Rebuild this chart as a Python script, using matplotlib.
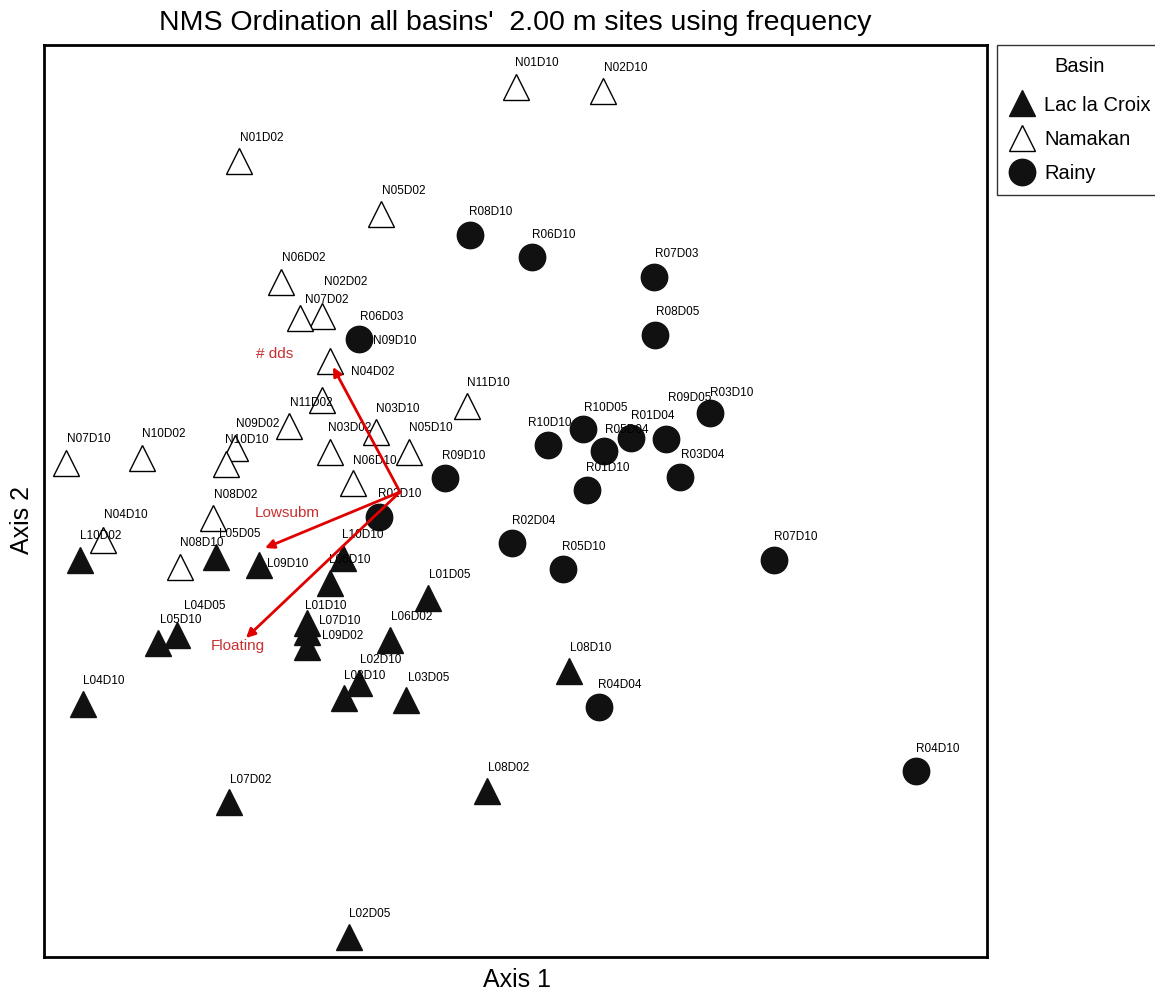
import matplotlib
matplotlib.use("Agg")
import matplotlib.pyplot as plt
from matplotlib.lines import Line2D

plt.rcParams['font.family'] = ['Liberation Sans', 'DejaVu Sans']

# ---- data: site scores (Axis 1, Axis 2) ----
lac_names = ["L10D02", "L05D05", "L09D10", "L10D10", "L06D10", "L01D05", "L04D05",
             "L05D10", "L01D10", "L07D10", "L09D02", "L06D02", "L02D10", "L03D10",
             "L03D05", "L08D10", "L04D10", "L07D02", "L08D02", "L02D05"]
lac_x = [80, 216, 259, 343, 330, 428, 177, 158, 307, 307, 307, 390, 359, 344, 406, 569, 83, 229, 487, 349]
lac_y = [560, 557, 565, 558, 583, 598, 635, 643, 623, 632, 647, 640, 683, 698, 700, 671, 704, 802, 791, 937]

nam_names = ["N01D10", "N02D10", "N01D02", "N05D02", "N06D02", "N02D02", "N07D02", "N04D02",
             "N11D10", "N11D02", "N03D10", "N09D02", "N03D02", "N05D10", "N10D10", "N09D10",
             "N07D10", "N10D02", "N06D10", "N08D02", "N04D10", "N08D10"]
nam_x = [516, 603, 239, 381, 281, 322, 300, 330, 467, 322, 376, 289, 330, 409, 235, 226, 66, 142, 353, 213, 103, 180]
nam_y = [87, 91, 161, 214, 282, 316, 318, 361, 406, 400, 432, 426, 452, 452, 448, 464, 463, 458, 483, 518, 540, 567]

rai_names = ["R08D10", "R06D10", "R07D03", "R08D05", "R06D03", "R03D10", "R09D05", "R01D04",
             "R05D04", "R10D05", "R10D10", "R03D04", "R01D10", "R09D10", "R02D10", "R02D04",
             "R05D10", "R07D10", "R04D04", "R04D10"]
rai_x = [470, 532, 654, 655, 359, 710, 666, 631, 604, 583, 548, 680, 587, 445, 379, 512, 563, 774, 599, 916]
rai_y = [235, 257, 277, 335, 339, 413, 439, 438, 451, 429, 445, 477, 490, 478, 517, 543, 569, 560, 707, 771]

# label positions (same units as scores)
lac_lx = [101, 240, 288, 363, 350, 450, 205, 181, 326, 340, 343, 412, 381, 365, 429, 591, 104, 251, 509, 370]
lac_ly = [536, 534, 564, 535, 560, 575, 606, 620, 606, 621, 636, 617, 660, 676, 678, 648, 681, 780, 768, 914]
nam_lx = [537, 626, 262, 404, 304, 346, 327, 373, 488, 311, 398, 258, 350, 431, 247, 395, 89, 164, 375, 236, 126, 202]
nam_ly = [63, 68, 138, 191, 258, 282, 300, 372, 383, 403, 409, 424, 428, 428, 440, 341, 439, 434, 461, 495, 515, 543]
rai_lx = [491, 554, 677, 678, 382, 732, 690, 653, 627, 606, 550, 703, 608, 464, 400, 534, 584, 796, 620, 938]
rai_ly = [212, 235, 254, 312, 317, 393, 398, 416, 430, 408, 423, 455, 468, 456, 494, 521, 547, 537, 685, 749]

# joint plot vectors
vec_names = ["# dds", "Lowsubm", "Floating"]
vec_origin = (400, 492)
vec_x = [333, 265, 246]
vec_y = [367, 548, 638]
vec_lx = [275, 287, 238]
vec_ly = [354, 513, 646]

basins = ["Lac la Croix", "Namakan", "Rainy"]

# ---- figure ----
W, H = 1155, 997
fig = plt.figure(figsize=(W / 100, H / 100), dpi=100)
ax = fig.add_axes([44 / W, 40 / H, 943 / W, 912 / H])
ax.set_xlim(44, 987)
ax.set_ylim(957, 45)
ax.set_xticks([])
ax.set_yticks([])
for s in ax.spines.values():
    s.set_linewidth(2.0)

MS = 19
ax.plot(nam_x, nam_y, linestyle='none', marker='^', ms=MS, mfc='white', mec='black', mew=1.0, zorder=2)
ax.plot(lac_x, lac_y, linestyle='none', marker='^', ms=MS, mfc='#111111', mec='#111111', mew=1.0, zorder=2)
ax.plot(rai_x, rai_y, linestyle='none', marker='o', ms=MS, mfc='#111111', mec='#111111', mew=1.0, zorder=2)

for names, xs, ys, lxs, lys in [(nam_names, nam_x, nam_y, nam_lx, nam_ly),
                                (lac_names, lac_x, lac_y, lac_lx, lac_ly),
                                (rai_names, rai_x, rai_y, rai_lx, rai_ly)]:
    for n, x, y, lx, ly in zip(names, xs, ys, lxs, lys):
        ax.text(lx, ly, n, fontsize=8.5, ha='center', va='center', color='black', zorder=4)

for n, x, y, lx, ly in zip(vec_names, vec_x, vec_y, vec_lx, vec_ly):
    ax.annotate("", xy=(x, y), xytext=vec_origin,
                arrowprops=dict(arrowstyle='-|>', color='#e00000', lw=2.0,
                                mutation_scale=13, shrinkA=0, shrinkB=0), zorder=5)
    ax.text(lx, ly, n, fontsize=11, ha='center', va='center', color='#c83030', zorder=5)

fig.text(515 / W, 1 - 23 / H, "NMS Ordination all basins'  2.00 m sites using frequency",
         fontsize=20.5, ha='center', va='center')
fig.text(517 / W, 1 - 980 / H, "Axis 1", fontsize=18, ha='center', va='center')
fig.text(22 / W, 1 - 520 / H, "Axis 2", fontsize=18, ha='center', va='center', rotation=90)

handles = [Line2D([], [], linestyle='none', marker='^', ms=19, mfc='#111111', mec='#111111'),
           Line2D([], [], linestyle='none', marker='^', ms=19, mfc='white', mec='black'),
           Line2D([], [], linestyle='none', marker='o', ms=19, mfc='#111111', mec='#111111')]
leg = fig.legend(handles, basins, title="Basin", loc='upper left',
                 bbox_to_anchor=(997 / W, 1 - 45 / H), fontsize=14.5, title_fontsize=14.5,
                 frameon=True, fancybox=False, edgecolor='black', handlelength=1.3,
                 handletextpad=0.45, borderpad=0.6, labelspacing=0.75, borderaxespad=0)
leg.get_frame().set_linewidth(1.0)
leg._legend_box.sep = 14

fig.savefig("out.png", dpi=100)
